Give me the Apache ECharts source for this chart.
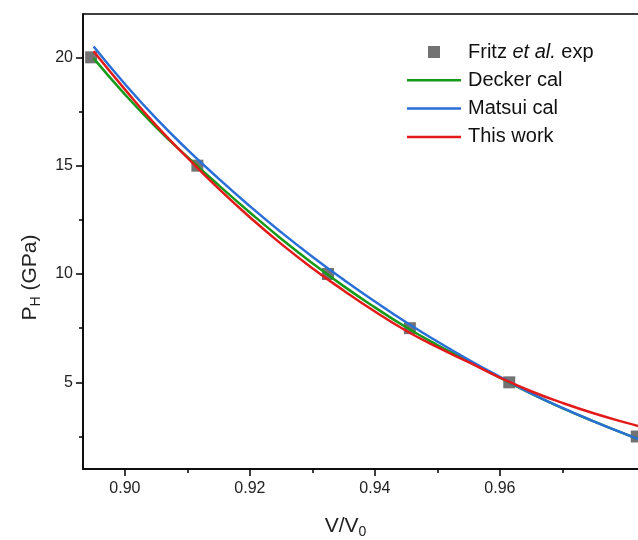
<!DOCTYPE html>
<html><head><meta charset="utf-8">
<script src="https://cdn.jsdelivr.net/npm/echarts@6/dist/echarts.min.js"></script>
<style>html,body{margin:0;padding:0;background:#fff}#c{width:638px;height:540px}</style>
</head><body><div id="c"></div>
<script>
// Experimental points (Fritz et al.)
const expV = [0.8946, 0.9116, 0.9325, 0.9456, 0.9615, 0.9819];
const expP = [20.0, 15.0, 10.0, 7.5, 5.0, 2.5];
// Calculated curves
const calcV = [0.895, 0.900, 0.905, 0.910, 0.915, 0.920, 0.925, 0.930, 0.935, 0.940, 0.945, 0.950, 0.955, 0.960, 0.965, 0.970, 0.975, 0.980, 0.985];
const deckerP = [19.95, 18.29, 16.77, 15.40, 14.10, 12.84, 11.63, 10.50, 9.44, 8.46, 7.54, 6.72, 5.97, 5.22, 4.48, 3.81, 3.20, 2.62, 2.07];
const matsuiP = [20.50, 18.77, 17.18, 15.74, 14.40, 13.13, 11.93, 10.80, 9.74, 8.73, 7.77, 6.88, 6.04, 5.25, 4.49, 3.82, 3.20, 2.62, 2.07];
const thisWorkP = [20.28, 18.52, 16.86, 15.37, 13.94, 12.62, 11.39, 10.27, 9.24, 8.27, 7.38, 6.62, 5.93, 5.22, 4.59, 4.05, 3.57, 3.15, 2.77];
// Ticks
const xMajorTicks = [0.90, 0.92, 0.94, 0.96];
const xMinorTicks = [0.91, 0.93, 0.95, 0.97];
const yMajorTicks = [5, 10, 15, 20];
const yMinorTicks = [2.5, 7.5, 12.5, 17.5];
const seriesNames = ['Fritz et al. exp', 'Decker cal', 'Matsui cal', 'This work'];

const FONT = '"Liberation Sans", Arial, sans-serif';
const X_MIN = 0.8933, X_MAX = 0.9853, Y_MIN = 1, Y_MAX = 22;
const zip = (xs, ys) => xs.map((x, i) => [x, ys[i]]);

// legend icons: invisible zero-area end points keep the 54x12 box
const squareIcon = 'path://M0,6L0.01,6L0,6ZM21,0H33V12H21ZM54,6L53.99,6L54,6Z';
const lineIcon = 'path://M27,0L27.01,0L27,0ZM0,4.75H54V7.25H0ZM27,12L27.01,12L27,12Z';

const chart = echarts.init(document.getElementById('c'), null, {renderer: 'canvas'});
const axisLine = {show: true, lineStyle: {color: '#000', width: 1.5}};
chart.setOption({
  animation: false,
  backgroundColor: '#fff',
  grid: {left: 83, top: 14, width: 575, bottom: 71, show: true, borderColor: '#000', borderWidth: 1.5,
         containLabel: false, outerBoundsMode: 'none'},
  xAxis: [
    {type: 'value', position: 'bottom', min: X_MIN, max: X_MAX,
     axisLine: axisLine,
     axisTick: {show: true, inside: false, length: 7, customValues: xMajorTicks, lineStyle: {color: '#000', width: 1.5}},
     axisLabel: {show: true, customValues: xMajorTicks, formatter: v => v.toFixed(2), fontSize: 16, color: '#222', fontFamily: FONT, margin: 12},
     splitLine: {show: false},
     name: '{a|V/V}{s|0}', nameLocation: 'middle', nameGap: 44,
     nameTextStyle: {padding: [0, 50, 0, 0], rich: {
       a: {fontSize: 21, fontFamily: FONT, color: '#222', lineHeight: 26},
       s: {fontSize: 14, fontFamily: FONT, color: '#222', lineHeight: 26, padding: [12, 0, 0, 0]}}}},
    {type: 'value', position: 'bottom', min: X_MIN, max: X_MAX,
     axisLine: {show: false},
     axisTick: {show: true, inside: false, length: 4, customValues: xMinorTicks, lineStyle: {color: '#000', width: 1.5}},
     axisLabel: {show: false}, splitLine: {show: false}}
  ],
  yAxis: [
    {type: 'value', position: 'left', min: Y_MIN, max: Y_MAX,
     axisLine: axisLine,
     axisTick: {show: true, inside: false, length: 7, customValues: yMajorTicks, lineStyle: {color: '#000', width: 1.5}},
     axisLabel: {show: true, customValues: yMajorTicks, fontSize: 16, color: '#222', fontFamily: FONT, margin: 10},
     splitLine: {show: false},
     name: '{a|P}{s|H}{a| (GPa)}', nameLocation: 'middle', nameGap: 40,
     nameTextStyle: {padding: [0, 72, 0, 0], rich: {
       a: {fontSize: 21, fontFamily: FONT, color: '#222', lineHeight: 26},
       s: {fontSize: 14, fontFamily: FONT, color: '#222', lineHeight: 26, padding: [12, 0, 0, 0]}}}},
    {type: 'value', position: 'left', min: Y_MIN, max: Y_MAX,
     axisLine: {show: false},
     axisTick: {show: true, inside: false, length: 4, customValues: yMinorTicks, lineStyle: {color: '#000', width: 1.5}},
     axisLabel: {show: false}, splitLine: {show: false}}
  ],
  legend: {
    left: 407, top: 40, orient: 'vertical', padding: 0, itemGap: 4.3,
    itemWidth: 54, itemHeight: 12,
    data: [{name: seriesNames[0], icon: squareIcon},
           {name: seriesNames[1], icon: lineIcon},
           {name: seriesNames[2], icon: lineIcon},
           {name: seriesNames[3], icon: lineIcon}],
    formatter: name => name === 'Fritz et al. exp' ? '{n|Fritz }{i|et al.}{n| exp}' : '{n|' + name + '}',
    textStyle: {fontSize: 20, fontFamily: FONT, color: '#111', lineHeight: 24, padding: [0, 0, 0, 2],
      rich: {n: {fontSize: 20, fontFamily: FONT, color: '#111', lineHeight: 24},
             i: {fontSize: 20, fontFamily: FONT, color: '#111', lineHeight: 24, fontStyle: 'italic'}}}
  },
  series: [
    {name: seriesNames[0], type: 'scatter', symbol: 'rect', symbolSize: 12, data: zip(expV, expP),
     itemStyle: {color: '#505050'}, z: 2},
    {name: seriesNames[1], type: 'line', smooth: true, symbol: 'none', showSymbol: false, data: zip(calcV, deckerP),
     lineStyle: {color: '#17991a', width: 2.5}, itemStyle: {color: '#17991a'}, z: 3},
    {name: seriesNames[2], type: 'line', smooth: true, symbol: 'none', showSymbol: false, data: zip(calcV, matsuiP),
     lineStyle: {color: '#2a6fd8', width: 2.5}, itemStyle: {color: '#2a6fd8'}, z: 4},
    {name: seriesNames[3], type: 'line', smooth: true, symbol: 'none', showSymbol: false, data: zip(calcV, thisWorkP),
     lineStyle: {color: '#e31a1a', width: 2.5}, itemStyle: {color: '#e31a1a'}, z: 5}
  ]
});
</script></body></html>
